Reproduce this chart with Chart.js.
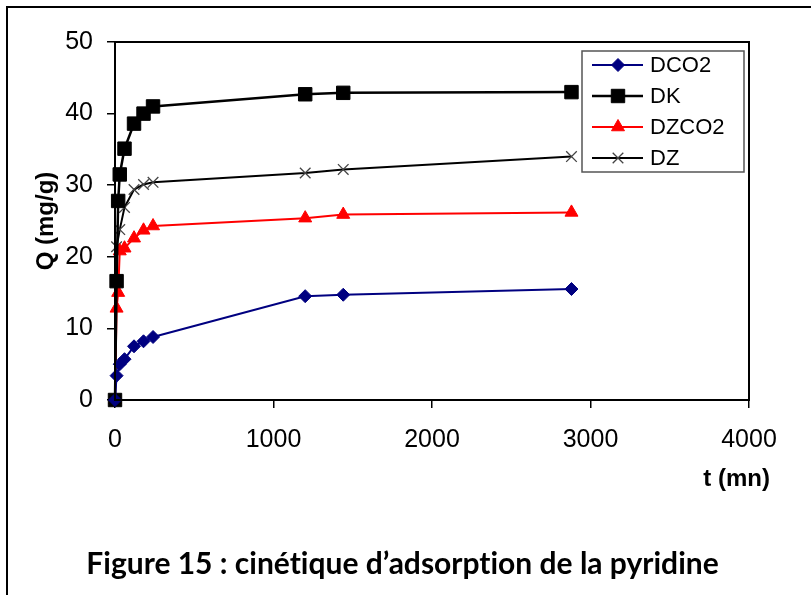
<!DOCTYPE html>
<html>
<head>
<meta charset="utf-8">
<script src="https://cdn.jsdelivr.net/npm/chart.js@4.4.1/dist/chart.umd.min.js"></script>
<style>
  html, body { margin: 0; padding: 0; background: #fff; }
  #wrap { position: relative; width: 811px; height: 595px; overflow: hidden; }
  #frame { position: absolute; left: 6px; top: 6px; width: 830px; height: 620px;
           border-left: 2px solid #000; border-top: 2px solid #000; box-sizing: border-box; }
  #cv { position: absolute; left: 0; top: 0; }
  #caption { position: absolute; left: 0; width: 805px; top: 544px; text-align: center;
             font-family: Lato, "Open Sans", sans-serif; font-weight: bold; font-size: 30px;
             font-variant-ligatures: none; font-feature-settings: "liga" 0; color: #000; }
</style>
</head>
<body>
<div id="wrap">
  <div id="frame"></div>
  <canvas id="cv" width="811" height="595"></canvas>
  <div id="caption">Figure 15 : cinétique d’adsorption de la pyridine</div>
</div>
<script>
// Sampling times (min) and adsorbed amounts Q (mg/g) for each material
const tDCO2   = [0, 10, 30, 60, 120, 180, 240, 1200, 1440, 2880];
const qDCO2   = [0, 3.4, 5.0, 5.7, 7.5, 8.2, 8.8, 14.5, 14.7, 15.5];

const tDK     = [0, 10, 20, 30, 60, 120, 180, 240, 1200, 1440, 2880];
const qDK     = [0, 16.6, 27.8, 31.5, 35.1, 38.6, 40.0, 41.0, 42.7, 42.9, 43.0];

const tDZCO2  = [0, 10, 20, 30, 60, 120, 180, 240, 1200, 1440, 2880];
const qDZCO2  = [0, 12.8, 15.0, 20.8, 21.2, 22.6, 23.7, 24.3, 25.4, 25.9, 26.2];

const tDZ     = [0, 10, 30, 60, 120, 180, 240, 1200, 1440, 2880];
const qDZ     = [0, 21.4, 23.8, 26.9, 29.4, 30.1, 30.4, 31.7, 32.2, 34.0];

const seriesNames = ['DCO2', 'DK', 'DZCO2', 'DZ'];
const xTicks = [0, 1000, 2000, 3000, 4000];
const yTicks = [0, 10, 20, 30, 40, 50];

const toPoints = (t, q) => t.map((x, i) => ({ x: x, y: q[i] }));

const FONT = '"Liberation Sans", Arial, sans-serif';
const TICK_FONT = '"Liberation Sans Narrow", "Arial Narrow", "Liberation Sans", sans-serif';

// Plot box (top/right sides) plus titles and the boxed legend
const decorations = {
  id: 'decorations',
  afterDraw(chart) {
    const { ctx, chartArea: a } = chart;
    ctx.save();
    ctx.strokeStyle = '#000';
    ctx.lineWidth = 2;
    ctx.strokeRect(a.left, a.top, a.right - a.left, a.bottom - a.top);

    // axis titles
    ctx.fillStyle = '#000';
    ctx.font = 'bold 24px ' + FONT;
    ctx.textAlign = 'right';
    ctx.textBaseline = 'middle';
    ctx.fillText('t (mn)', 770, 479);
    ctx.save();
    ctx.translate(46, 221);
    ctx.rotate(-Math.PI / 2);
    ctx.textAlign = 'center';
    ctx.fillText('Q (mg/g)', 0, 0);
    ctx.restore();

    // legend
    const lx = 582, ly = 51, lw = 162, lh = 121;
    ctx.fillStyle = '#fff';
    ctx.fillRect(lx, ly, lw, lh);
    ctx.strokeStyle = '#555';
    ctx.lineWidth = 1.5;
    ctx.strokeRect(lx, ly, lw, lh);
    const rows = [65, 96, 127, 158];
    chart.data.datasets.forEach((ds, i) => {
      const y = rows[i];
      ctx.strokeStyle = ds.borderColor;
      ctx.lineWidth = ds.borderWidth;
      ctx.beginPath();
      ctx.moveTo(592, y);
      ctx.lineTo(643, y);
      ctx.stroke();
      ctx.fillStyle = ds.pointBackgroundColor;
      ctx.strokeStyle = ds.pointBorderColor;
      ctx.lineWidth = ds.pointBorderWidth;
      Chart.helpers.drawPoint(ctx, {
        pointStyle: ds.pointStyle,
        radius: ds.pointRadius,
        borderWidth: ds.pointBorderWidth,
        rotation: 0
      }, 618, y);
      ctx.fillStyle = '#000';
      ctx.font = '22px ' + FONT;
      ctx.textAlign = 'left';
      ctx.textBaseline = 'middle';
      ctx.fillText(ds.label, 650, y + 1);
    });
    ctx.restore();
  }
};

new Chart(document.getElementById('cv'), {
  type: 'scatter',
  data: {
    datasets: [
      {
        label: seriesNames[0], data: toPoints(tDCO2, qDCO2), showLine: true,
        borderColor: '#000080', backgroundColor: '#000080', borderWidth: 2,
        pointStyle: 'rectRot', pointRadius: 6.5, pointBackgroundColor: '#000080',
        pointBorderColor: '#000080', pointBorderWidth: 1
      },
      {
        label: seriesNames[1], data: toPoints(tDK, qDK), showLine: true,
        borderColor: '#000000', backgroundColor: '#000000', borderWidth: 2.5,
        pointStyle: 'rect', pointRadius: 9.5, pointBackgroundColor: '#000000',
        pointBorderColor: '#000000', pointBorderWidth: 1
      },
      {
        label: seriesNames[2], data: toPoints(tDZCO2, qDZCO2), showLine: true,
        borderColor: '#ff0000', backgroundColor: '#ff0000', borderWidth: 2,
        pointStyle: 'triangle', pointRadius: 7.5, pointBackgroundColor: '#ff0000',
        pointBorderColor: '#ff0000', pointBorderWidth: 1
      },
      {
        label: seriesNames[3], data: toPoints(tDZ, qDZ), showLine: true,
        borderColor: '#000000', backgroundColor: '#000000', borderWidth: 2,
        pointStyle: 'crossRot', pointRadius: 7.5, pointBackgroundColor: '#444444',
        pointBorderColor: '#444444', pointBorderWidth: 1.3
      }
    ]
  },
  options: {
    responsive: false,
    animation: false,
    clip: false,
    layout: { padding: { top: 42, right: 62, left: 0, bottom: 0 } },
    plugins: { legend: { display: false }, tooltip: { enabled: false } },
    scales: {
      x: {
        type: 'linear', min: 0, max: 4000,
        afterFit(s) { s.height = 195; },
        afterBuildTicks(s) { s.ticks = xTicks.map(v => ({ value: v })); },
        ticks: { color: '#000', font: { family: TICK_FONT, size: 25 }, padding: 17, maxRotation: 0,
                 callback: v => String(v) },
        grid: { drawOnChartArea: false, drawTicks: true, tickLength: 8, color: '#000', lineWidth: 1.5 },
        border: { display: true, color: '#000', width: 2 }
      },
      y: {
        type: 'linear', min: 0, max: 50,
        afterFit(s) { s.width = 115; },
        afterBuildTicks(s) { s.ticks = yTicks.map(v => ({ value: v })); },
        ticks: { color: '#000', font: { family: TICK_FONT, size: 25 }, padding: 14,
                 callback: v => String(v) },
        grid: { drawOnChartArea: false, drawTicks: true, tickLength: 8, color: '#000', lineWidth: 1.5 },
        border: { display: true, color: '#000', width: 2 }
      }
    }
  },
  plugins: [decorations]
});
</script>
</body>
</html>
